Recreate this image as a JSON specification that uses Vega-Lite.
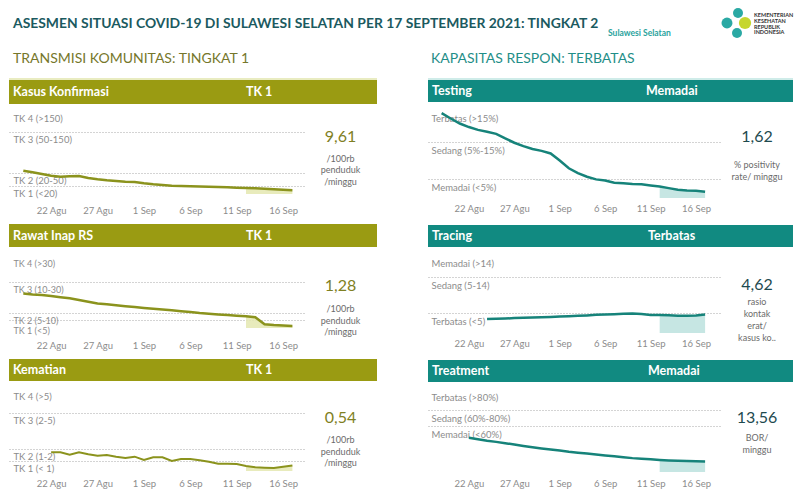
{
  "$schema": "https://vega.github.io/schema/vega-lite/v6.json",
  "padding": {"left": 8, "top": 0, "right": 0, "bottom": 0},
  "background": "#ffffff",
  "spacing": 0,
  "config": {
    "view": {"stroke": null},
    "font": "Lato",
    "axis": {"labelFont": "Lato", "minExtent": 0},
    "locale": {"number": {"decimal": ",", "thousands": ".", "grouping": [3], "currency": ["Rp", ""]}}
  },
  "datasets": {
    "kasus": [
      {"date": "2021-08-19", "value": 55.6}, {"date": "2021-08-20", "value": 51.6}, {"date": "2021-08-21", "value": 47.7},
      {"date": "2021-08-22", "value": 43.8}, {"date": "2021-08-23", "value": 41.5}, {"date": "2021-08-24", "value": 42.3},
      {"date": "2021-08-25", "value": 43.1}, {"date": "2021-08-26", "value": 38.5}, {"date": "2021-08-27", "value": 35.4},
      {"date": "2021-08-28", "value": 33.1}, {"date": "2021-08-29", "value": 31.5}, {"date": "2021-08-30", "value": 30.0},
      {"date": "2021-08-31", "value": 29.2}, {"date": "2021-09-01", "value": 26.2}, {"date": "2021-09-02", "value": 23.8},
      {"date": "2021-09-03", "value": 22.3}, {"date": "2021-09-04", "value": 20.8}, {"date": "2021-09-05", "value": 20.0},
      {"date": "2021-09-06", "value": 19.6}, {"date": "2021-09-07", "value": 19.0}, {"date": "2021-09-08", "value": 18.3},
      {"date": "2021-09-09", "value": 17.5}, {"date": "2021-09-10", "value": 16.7}, {"date": "2021-09-11", "value": 15.8},
      {"date": "2021-09-12", "value": 15.0}, {"date": "2021-09-13", "value": 14.2}, {"date": "2021-09-14", "value": 13.3},
      {"date": "2021-09-15", "value": 12.0}, {"date": "2021-09-16", "value": 10.8}, {"date": "2021-09-17", "value": 9.61}
    ],
    "rawat": [
      {"date": "2021-08-19", "value": 22.6}, {"date": "2021-08-20", "value": 22.0}, {"date": "2021-08-21", "value": 21.6},
      {"date": "2021-08-22", "value": 21.0}, {"date": "2021-08-23", "value": 20.2}, {"date": "2021-08-24", "value": 19.5},
      {"date": "2021-08-25", "value": 18.4}, {"date": "2021-08-26", "value": 17.3}, {"date": "2021-08-27", "value": 16.2},
      {"date": "2021-08-28", "value": 15.6}, {"date": "2021-08-29", "value": 15.0}, {"date": "2021-08-30", "value": 14.4},
      {"date": "2021-08-31", "value": 13.8}, {"date": "2021-09-01", "value": 13.2}, {"date": "2021-09-02", "value": 12.7},
      {"date": "2021-09-03", "value": 12.3}, {"date": "2021-09-04", "value": 11.8}, {"date": "2021-09-05", "value": 11.2},
      {"date": "2021-09-06", "value": 10.6}, {"date": "2021-09-07", "value": 10.0}, {"date": "2021-09-08", "value": 9.5},
      {"date": "2021-09-09", "value": 9.0}, {"date": "2021-09-10", "value": 8.5}, {"date": "2021-09-11", "value": 8.1},
      {"date": "2021-09-12", "value": 7.6}, {"date": "2021-09-13", "value": 7.0}, {"date": "2021-09-14", "value": 2.3},
      {"date": "2021-09-15", "value": 1.8}, {"date": "2021-09-16", "value": 1.5}, {"date": "2021-09-17", "value": 1.28}
    ],
    "kematian": [
      {"date": "2021-08-22", "value": 1.72}, {"date": "2021-08-23", "value": 1.72}, {"date": "2021-08-24", "value": 1.53},
      {"date": "2021-08-25", "value": 1.72}, {"date": "2021-08-26", "value": 1.56}, {"date": "2021-08-27", "value": 1.44},
      {"date": "2021-08-28", "value": 1.5}, {"date": "2021-08-29", "value": 1.36}, {"date": "2021-08-30", "value": 1.25},
      {"date": "2021-08-31", "value": 1.36}, {"date": "2021-09-01", "value": 1.08}, {"date": "2021-09-02", "value": 1.31},
      {"date": "2021-09-03", "value": 1.31}, {"date": "2021-09-04", "value": 1.0}, {"date": "2021-09-05", "value": 1.17},
      {"date": "2021-09-06", "value": 1.17}, {"date": "2021-09-07", "value": 1.06}, {"date": "2021-09-08", "value": 0.93},
      {"date": "2021-09-09", "value": 0.73}, {"date": "2021-09-10", "value": 0.72}, {"date": "2021-09-11", "value": 0.7},
      {"date": "2021-09-12", "value": 0.5}, {"date": "2021-09-13", "value": 0.37}, {"date": "2021-09-14", "value": 0.33},
      {"date": "2021-09-15", "value": 0.3}, {"date": "2021-09-16", "value": 0.43}, {"date": "2021-09-17", "value": 0.54}
    ],
    "testing": [
      {"date": "2021-08-19", "value": 23.1}, {"date": "2021-08-20", "value": 21.6}, {"date": "2021-08-21", "value": 20.2},
      {"date": "2021-08-22", "value": 19.2}, {"date": "2021-08-23", "value": 18.4}, {"date": "2021-08-24", "value": 17.9},
      {"date": "2021-08-25", "value": 17.3}, {"date": "2021-08-26", "value": 16.0}, {"date": "2021-08-27", "value": 14.8},
      {"date": "2021-08-28", "value": 13.9}, {"date": "2021-08-29", "value": 13.1}, {"date": "2021-08-30", "value": 12.6},
      {"date": "2021-08-31", "value": 11.9}, {"date": "2021-09-01", "value": 10.0}, {"date": "2021-09-02", "value": 7.9},
      {"date": "2021-09-03", "value": 6.6}, {"date": "2021-09-04", "value": 5.6}, {"date": "2021-09-05", "value": 4.9},
      {"date": "2021-09-06", "value": 4.6}, {"date": "2021-09-07", "value": 4.0}, {"date": "2021-09-08", "value": 3.9},
      {"date": "2021-09-09", "value": 3.7}, {"date": "2021-09-10", "value": 3.6}, {"date": "2021-09-11", "value": 3.3},
      {"date": "2021-09-12", "value": 3.0}, {"date": "2021-09-13", "value": 2.6}, {"date": "2021-09-14", "value": 2.2},
      {"date": "2021-09-15", "value": 2.0}, {"date": "2021-09-16", "value": 1.9}, {"date": "2021-09-17", "value": 1.62}
    ],
    "tracing": [
      {"date": "2021-08-24", "value": 3.5}, {"date": "2021-08-25", "value": 3.55}, {"date": "2021-08-26", "value": 3.62},
      {"date": "2021-08-27", "value": 3.72}, {"date": "2021-08-28", "value": 3.8}, {"date": "2021-08-29", "value": 3.9},
      {"date": "2021-08-30", "value": 3.95}, {"date": "2021-08-31", "value": 4.0}, {"date": "2021-09-01", "value": 4.1},
      {"date": "2021-09-02", "value": 4.2}, {"date": "2021-09-03", "value": 4.3}, {"date": "2021-09-04", "value": 4.4},
      {"date": "2021-09-05", "value": 4.55}, {"date": "2021-09-06", "value": 4.6}, {"date": "2021-09-07", "value": 4.68},
      {"date": "2021-09-08", "value": 4.8}, {"date": "2021-09-09", "value": 4.9}, {"date": "2021-09-10", "value": 4.72},
      {"date": "2021-09-11", "value": 4.5}, {"date": "2021-09-12", "value": 4.5}, {"date": "2021-09-13", "value": 4.45},
      {"date": "2021-09-14", "value": 4.3}, {"date": "2021-09-15", "value": 4.3}, {"date": "2021-09-16", "value": 4.4},
      {"date": "2021-09-17", "value": 4.62}
    ],
    "treatment": [
      {"date": "2021-08-22", "value": 44.7}, {"date": "2021-08-23", "value": 42.7}, {"date": "2021-08-24", "value": 40.7},
      {"date": "2021-08-25", "value": 39.3}, {"date": "2021-08-26", "value": 37.6}, {"date": "2021-08-27", "value": 35.8},
      {"date": "2021-08-28", "value": 34.0}, {"date": "2021-08-29", "value": 32.3}, {"date": "2021-08-30", "value": 30.8},
      {"date": "2021-08-31", "value": 29.4}, {"date": "2021-09-01", "value": 27.9}, {"date": "2021-09-02", "value": 26.4},
      {"date": "2021-09-03", "value": 25.2}, {"date": "2021-09-04", "value": 24.0}, {"date": "2021-09-05", "value": 22.8},
      {"date": "2021-09-06", "value": 21.6}, {"date": "2021-09-07", "value": 20.4}, {"date": "2021-09-08", "value": 19.2},
      {"date": "2021-09-09", "value": 18.1}, {"date": "2021-09-10", "value": 17.3}, {"date": "2021-09-11", "value": 16.5},
      {"date": "2021-09-12", "value": 15.7}, {"date": "2021-09-13", "value": 15.1}, {"date": "2021-09-14", "value": 14.6},
      {"date": "2021-09-15", "value": 14.2}, {"date": "2021-09-16", "value": 13.9}, {"date": "2021-09-17", "value": 13.56}
    ]
  },
  "vconcat": [
    {
      "width": 784, "height": 80,
      "data": {"values": [{"title": "ASESMEN SITUASI COVID-19 DI SULAWESI SELATAN PER 17 SEPTEMBER 2021: TINGKAT 2", "region": "Sulawesi Selatan", "left": "TRANSMISI KOMUNITAS: TINGKAT 1", "right": "KAPASITAS RESPON: TERBATAS", "org": "KEMENTERIAN\nKESEHATAN\nREPUBLIK\nINDONESIA"}]},
      "layer": [
        {"mark": {"type": "text", "align": "left", "baseline": "middle", "fontSize": 13.9, "fontWeight": "bold", "color": "#1b5a5f"}, "encoding": {"text": {"field": "title"}, "x": {"value": 4}, "y": {"value": 24}}},
        {"mark": {"type": "text", "align": "left", "baseline": "middle", "fontSize": 8.5, "fontWeight": "bold", "color": "#2aa39d"}, "encoding": {"text": {"field": "region"}, "x": {"value": 599}, "y": {"value": 33}}},
        {"mark": {"type": "text", "align": "left", "baseline": "middle", "fontSize": 14, "color": "#76772b"}, "encoding": {"text": {"field": "left"}, "x": {"value": 4}, "y": {"value": 59}}},
        {"mark": {"type": "text", "align": "left", "baseline": "middle", "fontSize": 14, "color": "#1f8e88"}, "encoding": {"text": {"field": "right"}, "x": {"value": 422}, "y": {"value": 59}}},
        {"mark": {"type": "rule", "color": "#e2e6ad", "strokeWidth": 1.5}, "encoding": {"x": {"value": 0}, "x2": {"value": 368}, "y": {"value": 79}}},
        {"mark": {"type": "rule", "color": "#bfe6e2", "strokeWidth": 1.5}, "encoding": {"x": {"value": 419}, "x2": {"value": 784}, "y": {"value": 79}}},
        {"mark": {"type": "point", "filled": true, "opacity": 1, "color": "#2aa9a4", "size": 120}, "encoding": {"x": {"value": 718}, "y": {"value": 23}}},
        {"mark": {"type": "point", "filled": true, "opacity": 1, "color": "#2aa9a4", "size": 100}, "encoding": {"x": {"value": 729}, "y": {"value": 13}}},
        {"mark": {"type": "point", "filled": true, "opacity": 1, "color": "#2aa9a4", "size": 100}, "encoding": {"x": {"value": 728}, "y": {"value": 33}}},
        {"mark": {"type": "point", "filled": true, "opacity": 1, "color": "#c6d62e", "size": 150}, "encoding": {"x": {"value": 736}, "y": {"value": 23}}},
        {"mark": {"type": "text", "align": "left", "baseline": "middle", "fontSize": 5.5, "fontWeight": "bold", "color": "#333333", "lineBreak": "\n", "lineHeight": 5.8}, "encoding": {"text": {"field": "org"}, "x": {"value": 745}, "y": {"value": 15}}}
      ]
    },
    {
      "spacing": 51,
      "hconcat": [
        {
          "spacing": 6,
          "vconcat": [
            {
              "spacing": 0,
              "vconcat": [
                {
                  "width": 368, "height": 24,
                  "view": {"fill": "#9a9b12", "stroke": null},
                  "data": {"values": [{"indicator": "Kasus Konfirmasi", "status": "TK 1"}]},
                  "layer": [
                    {"mark": {"type": "text", "align": "left", "color": "white", "fontSize": 12.5, "fontWeight": "bold"}, "encoding": {"text": {"field": "indicator"}, "x": {"value": 4}}},
                    {"mark": {"type": "text", "align": "left", "color": "white", "fontSize": 12.5, "fontWeight": "bold"}, "encoding": {"text": {"field": "status"}, "x": {"value": 237}}}
                  ]
                },
                {
                  "spacing": 0,
                  "hconcat": [
                    {
                      "width": 295, "height": 96,
                      "data": {"name": "kasus"},
                      "encoding": {
                        "x": {"field": "date", "type": "temporal", "scale": {"type": "utc", "nice": false, "domain": [{"year": 2021, "month": 8, "date": 17, "hours": 11, "utc": true}, {"year": 2021, "month": 9, "date": 18, "hours": 6, "utc": true}]},
                          "axis": {"values": [{"year": 2021, "month": 8, "date": 22, "utc": true}, {"year": 2021, "month": 8, "date": 27, "utc": true}, {"year": 2021, "month": 9, "date": 1, "utc": true}, {"year": 2021, "month": 9, "date": 6, "utc": true}, {"year": 2021, "month": 9, "date": 11, "utc": true}, {"year": 2021, "month": 9, "date": 16, "utc": true}], "labelExpr": "utcFormat(datum.value, '%-d') + (utcmonth(datum.value) == 7 ? ' Agu' : ' Sep')", "title": null, "domain": false, "ticks": false, "tickSize": 0, "grid": false, "labelPadding": 5, "labelFontSize": 9.5, "labelColor": "#8c8c8c", "labelFlush": false, "labelOverlap": false}},
                        "y": {"field": "value", "type": "quantitative", "scale": {"domain": [0, 20, 50, 150, 250], "range": [90, 82, 69, 28, 7], "nice": false, "zero": false},
                          "axis": {"orient": "left", "values": [250, 150, 50, 20], "labelExpr": "datum.value == 250 ? 'TK 4 (>150)' : datum.value == 150 ? 'TK 3 (50-150)' : datum.value == 50 ? 'TK 2 (20-50)' : 'TK 1 (<20)'", "labelAlign": "left", "labelBaseline": "middle", "labelPadding": -4, "labelOffset": 7, "ticks": false, "tickSize": 0, "domain": false, "grid": true, "gridDash": [1, 2], "gridColor": "#a8a8a8", "gridOpacity": {"condition": {"test": "datum.value == 250", "value": 0}, "value": 1}, "title": null, "labelFontSize": 9.5, "labelColor": "#8c8c8c", "labelOverlap": false, "labelBound": false, "labelFlush": false}}
                      },
                      "layer": [
                        {
                          "transform": [{"filter": "time(datum.date) >= time('2021-09-12')"}],
                          "mark": {"type": "area", "color": "#e4e7b0", "opacity": 0.85},
                          "encoding": {"y2": {"datum": 0}}
                        },
                        {"mark": {"type": "line", "color": "#8b931d", "strokeWidth": 2.5}}
                      ]
                    },
                    {
                      "width": 73, "height": 114,
                      "data": {"values": [{"value": 9.61, "unit": "/100rb\npenduduk\n/minggu"}]},
                      "layer": [
                        {"mark": {"type": "text", "fontSize": 16, "color": "#7f8023", "dy": -24}, "encoding": {"text": {"field": "value", "type": "quantitative", "format": ".2f"}}},
                        {"mark": {"type": "text", "fontSize": 9, "color": "#6b6b6b", "lineBreak": "\n", "lineHeight": 11.5, "dy": -2.5}, "encoding": {"text": {"field": "unit"}}}
                      ]
                    }
                  ]
                }
              ]
            },
            {
              "spacing": 0,
              "vconcat": [
                {
                  "width": 368, "height": 23,
                  "view": {"fill": "#9a9b12", "stroke": null},
                  "data": {"values": [{"indicator": "Rawat Inap RS", "status": "TK 1"}]},
                  "layer": [
                    {"mark": {"type": "text", "align": "left", "color": "white", "fontSize": 12.5, "fontWeight": "bold"}, "encoding": {"text": {"field": "indicator"}, "x": {"value": 4}}},
                    {"mark": {"type": "text", "align": "left", "color": "white", "fontSize": 12.5, "fontWeight": "bold"}, "encoding": {"text": {"field": "status"}, "x": {"value": 237}}}
                  ]
                },
                {
                  "spacing": 0,
                  "hconcat": [
                    {
                      "width": 295, "height": 88,
                      "data": {"name": "rawat"},
                      "encoding": {
                        "x": {"field": "date", "type": "temporal", "scale": {"type": "utc", "nice": false, "domain": [{"year": 2021, "month": 8, "date": 17, "hours": 11, "utc": true}, {"year": 2021, "month": 9, "date": 18, "hours": 6, "utc": true}]},
                          "axis": {"values": [{"year": 2021, "month": 8, "date": 22, "utc": true}, {"year": 2021, "month": 8, "date": 27, "utc": true}, {"year": 2021, "month": 9, "date": 1, "utc": true}, {"year": 2021, "month": 9, "date": 6, "utc": true}, {"year": 2021, "month": 9, "date": 11, "utc": true}, {"year": 2021, "month": 9, "date": 16, "utc": true}], "labelExpr": "utcFormat(datum.value, '%-d') + (utcmonth(datum.value) == 7 ? ' Agu' : ' Sep')", "title": null, "domain": false, "ticks": false, "tickSize": 0, "grid": false, "labelPadding": 5, "labelFontSize": 9.5, "labelColor": "#8c8c8c", "labelFlush": false, "labelOverlap": false}},
                        "y": {"field": "value", "type": "quantitative", "scale": {"domain": [0, 5, 10, 30, 60], "range": [81, 73, 66, 35, 9], "nice": false, "zero": false},
                          "axis": {"orient": "left", "values": [60, 30, 10, 5], "labelExpr": "datum.value == 60 ? 'TK 4 (>30)' : datum.value == 30 ? 'TK 3 (10-30)' : datum.value == 10 ? 'TK 2 (5-10)' : 'TK 1 (<5)'", "labelAlign": "left", "labelBaseline": "middle", "labelPadding": -4, "labelOffset": {"condition": {"test": "datum.value == 5", "value": 10}, "value": 7}, "ticks": false, "tickSize": 0, "domain": false, "grid": true, "gridDash": [1, 2], "gridColor": "#a8a8a8", "gridOpacity": {"condition": {"test": "datum.value == 60", "value": 0}, "value": 1}, "title": null, "labelFontSize": 9, "labelColor": "#8c8c8c", "labelOverlap": false, "labelBound": false, "labelFlush": false}}
                      },
                      "layer": [
                        {
                          "transform": [{"filter": "time(datum.date) >= time('2021-09-12')"}],
                          "mark": {"type": "area", "color": "#e4e7b0", "opacity": 0.85},
                          "encoding": {"y2": {"datum": 0}}
                        },
                        {"mark": {"type": "line", "color": "#8b931d", "strokeWidth": 2.5}}
                      ]
                    },
                    {
                      "width": 73, "height": 106,
                      "data": {"values": [{"value": 1.28, "unit": "/100rb\npenduduk\n/minggu"}]},
                      "layer": [
                        {"mark": {"type": "text", "fontSize": 16, "color": "#7f8023", "dy": -14}, "encoding": {"text": {"field": "value", "type": "quantitative", "format": ".2f"}}},
                        {"mark": {"type": "text", "fontSize": 9, "color": "#6b6b6b", "lineBreak": "\n", "lineHeight": 11.5, "dy": 9}, "encoding": {"text": {"field": "unit"}}}
                      ]
                    }
                  ]
                }
              ]
            },
            {
              "spacing": 0,
              "vconcat": [
                {
                  "width": 368, "height": 22,
                  "view": {"fill": "#9a9b12", "stroke": null},
                  "data": {"values": [{"indicator": "Kematian", "status": "TK 1"}]},
                  "layer": [
                    {"mark": {"type": "text", "align": "left", "color": "white", "fontSize": 12.5, "fontWeight": "bold"}, "encoding": {"text": {"field": "indicator"}, "x": {"value": 4}}},
                    {"mark": {"type": "text", "align": "left", "color": "white", "fontSize": 12.5, "fontWeight": "bold"}, "encoding": {"text": {"field": "status"}, "x": {"value": 237}}}
                  ]
                },
                {
                  "spacing": 0,
                  "hconcat": [
                    {
                      "width": 295, "height": 92,
                      "data": {"name": "kematian"},
                      "encoding": {
                        "x": {"field": "date", "type": "temporal", "scale": {"type": "utc", "nice": false, "domain": [{"year": 2021, "month": 8, "date": 17, "hours": 11, "utc": true}, {"year": 2021, "month": 9, "date": 18, "hours": 6, "utc": true}]},
                          "axis": {"values": [{"year": 2021, "month": 8, "date": 22, "utc": true}, {"year": 2021, "month": 8, "date": 27, "utc": true}, {"year": 2021, "month": 9, "date": 1, "utc": true}, {"year": 2021, "month": 9, "date": 6, "utc": true}, {"year": 2021, "month": 9, "date": 11, "utc": true}, {"year": 2021, "month": 9, "date": 16, "utc": true}], "labelExpr": "utcFormat(datum.value, '%-d') + (utcmonth(datum.value) == 7 ? ' Agu' : ' Sep')", "title": null, "domain": false, "ticks": false, "tickSize": 0, "grid": false, "labelPadding": 5, "labelFontSize": 9.5, "labelColor": "#8c8c8c", "labelFlush": false, "labelOverlap": false}},
                        "y": {"field": "value", "type": "quantitative", "scale": {"domain": [0, 1, 2, 5, 10], "range": [90, 80, 68, 32, 8], "nice": false, "zero": false},
                          "axis": {"orient": "left", "values": [10, 5, 2, 1], "labelExpr": "datum.value == 10 ? 'TK 4 (>5)' : datum.value == 5 ? 'TK 3 (2-5)' : datum.value == 2 ? 'TK 2 (1-2)' : 'TK 1 (< 1)'", "labelAlign": "left", "labelBaseline": "middle", "labelPadding": -4, "labelOffset": 7, "ticks": false, "tickSize": 0, "domain": false, "grid": true, "gridDash": [1, 2], "gridColor": "#a8a8a8", "gridOpacity": {"condition": {"test": "datum.value == 10", "value": 0}, "value": 1}, "title": null, "labelFontSize": 9.5, "labelColor": "#8c8c8c", "labelOverlap": false, "labelBound": false, "labelFlush": false}}
                      },
                      "layer": [
                        {
                          "transform": [{"filter": "time(datum.date) >= time('2021-09-12')"}],
                          "mark": {"type": "area", "color": "#e4e7b0", "opacity": 0.85},
                          "encoding": {"y2": {"datum": 0}}
                        },
                        {"mark": {"type": "line", "color": "#8b931d", "strokeWidth": 2}}
                      ]
                    },
                    {
                      "width": 73, "height": 110,
                      "data": {"values": [{"value": 0.54, "unit": "/100rb\npenduduk\n/minggu"}]},
                      "layer": [
                        {"mark": {"type": "text", "fontSize": 16, "color": "#7f8023", "dy": -18}, "encoding": {"text": {"field": "value", "type": "quantitative", "format": ".2f"}}},
                        {"mark": {"type": "text", "fontSize": 9, "color": "#6b6b6b", "lineBreak": "\n", "lineHeight": 11.5, "dy": 4}, "encoding": {"text": {"field": "unit"}}}
                      ]
                    }
                  ]
                }
              ]
            }
          ]
        },
        {
          "spacing": 9,
          "vconcat": [
            {
              "spacing": 0,
              "vconcat": [
                {
                  "width": 365, "height": 22,
                  "view": {"fill": "#118a81", "stroke": null},
                  "data": {"values": [{"indicator": "Testing", "status": "Memadai"}]},
                  "layer": [
                    {"mark": {"type": "text", "align": "left", "color": "white", "fontSize": 12.5, "fontWeight": "bold"}, "encoding": {"text": {"field": "indicator"}, "x": {"value": 4}}},
                    {"mark": {"type": "text", "align": "left", "color": "white", "fontSize": 12.5, "fontWeight": "bold"}, "encoding": {"text": {"field": "status"}, "x": {"value": 218}}}
                  ]
                },
                {
                  "spacing": 0,
                  "hconcat": [
                    {
                      "width": 293, "height": 96,
                      "data": {"name": "testing"},
                      "encoding": {
                        "x": {"field": "date", "type": "temporal", "scale": {"type": "utc", "nice": false, "domain": [{"year": 2021, "month": 8, "date": 17, "hours": 12, "utc": true}, {"year": 2021, "month": 9, "date": 18, "hours": 18, "utc": true}]},
                          "axis": {"values": [{"year": 2021, "month": 8, "date": 22, "utc": true}, {"year": 2021, "month": 8, "date": 27, "utc": true}, {"year": 2021, "month": 9, "date": 1, "utc": true}, {"year": 2021, "month": 9, "date": 6, "utc": true}, {"year": 2021, "month": 9, "date": 11, "utc": true}, {"year": 2021, "month": 9, "date": 16, "utc": true}], "labelExpr": "utcFormat(datum.value, '%-d') + (utcmonth(datum.value) == 7 ? ' Agu' : ' Sep')", "title": null, "domain": false, "ticks": false, "tickSize": 0, "grid": false, "labelPadding": 5, "labelFontSize": 9.5, "labelColor": "#8c8c8c", "labelFlush": false, "labelOverlap": false}},
                        "y": {"field": "value", "type": "quantitative", "scale": {"domain": [0, 5, 15, 24], "range": [96, 77, 40, 8], "nice": false, "zero": false},
                          "axis": {"orient": "left", "values": [24, 15, 5], "labelExpr": "datum.value == 24 ? 'Terbatas (>15%)' : datum.value == 15 ? 'Sedang (5%-15%)' : 'Memadai (<5%)'", "labelAlign": "left", "labelBaseline": "middle", "labelPadding": -3, "labelOffset": 8, "ticks": false, "tickSize": 0, "domain": false, "grid": true, "gridDash": [1, 2], "gridColor": "#a8a8a8", "gridOpacity": {"condition": {"test": "datum.value == 24", "value": 0}, "value": 1}, "title": null, "labelFontSize": 9.5, "labelColor": "#8c8c8c", "labelOverlap": false, "labelBound": false, "labelFlush": false}}
                      },
                      "layer": [
                        {
                          "transform": [{"filter": "time(datum.date) >= time('2021-09-12')"}],
                          "mark": {"type": "area", "color": "#b8e0dc", "opacity": 0.8},
                          "encoding": {"y2": {"datum": 0}}
                        },
                        {"mark": {"type": "line", "color": "#16837a", "strokeWidth": 2.5}}
                      ]
                    },
                    {
                      "width": 72, "height": 114,
                      "data": {"values": [{"value": 1.62, "unit": "% positivity\nrate/ minggu"}]},
                      "layer": [
                        {"mark": {"type": "text", "fontSize": 16, "color": "#1e4a4f", "dy": -22}, "encoding": {"text": {"field": "value", "type": "quantitative", "format": ".2f"}}},
                        {"mark": {"type": "text", "fontSize": 9, "color": "#6b6b6b", "lineBreak": "\n", "lineHeight": 12, "dy": 6}, "encoding": {"text": {"field": "unit"}}}
                      ]
                    }
                  ]
                }
              ]
            },
            {
              "spacing": 0,
              "vconcat": [
                {
                  "width": 365, "height": 22,
                  "view": {"fill": "#118a81", "stroke": null},
                  "data": {"values": [{"indicator": "Tracing", "status": "Terbatas"}]},
                  "layer": [
                    {"mark": {"type": "text", "align": "left", "color": "white", "fontSize": 12.5, "fontWeight": "bold"}, "encoding": {"text": {"field": "indicator"}, "x": {"value": 4}}},
                    {"mark": {"type": "text", "align": "left", "color": "white", "fontSize": 12.5, "fontWeight": "bold"}, "encoding": {"text": {"field": "status"}, "x": {"value": 220}}}
                  ]
                },
                {
                  "spacing": 0,
                  "hconcat": [
                    {
                      "width": 293, "height": 86,
                      "data": {"name": "tracing"},
                      "encoding": {
                        "x": {"field": "date", "type": "temporal", "scale": {"type": "utc", "nice": false, "domain": [{"year": 2021, "month": 8, "date": 17, "hours": 12, "utc": true}, {"year": 2021, "month": 9, "date": 18, "hours": 18, "utc": true}]},
                          "axis": {"values": [{"year": 2021, "month": 8, "date": 22, "utc": true}, {"year": 2021, "month": 8, "date": 27, "utc": true}, {"year": 2021, "month": 9, "date": 1, "utc": true}, {"year": 2021, "month": 9, "date": 6, "utc": true}, {"year": 2021, "month": 9, "date": 11, "utc": true}, {"year": 2021, "month": 9, "date": 16, "utc": true}], "labelExpr": "utcFormat(datum.value, '%-d') + (utcmonth(datum.value) == 7 ? ' Agu' : ' Sep')", "title": null, "domain": false, "ticks": false, "tickSize": 0, "grid": false, "labelPadding": 5, "labelFontSize": 9.5, "labelColor": "#8c8c8c", "labelFlush": false, "labelOverlap": false}},
                        "y": {"field": "value", "type": "quantitative", "scale": {"domain": [0, 5, 14, 20], "range": [86, 66, 30, 8], "nice": false, "zero": false},
                          "axis": {"orient": "left", "values": [20, 14, 5], "labelExpr": "datum.value == 20 ? 'Memadai (>14)' : datum.value == 14 ? 'Sedang (5-14)' : 'Terbatas (<5)'", "labelAlign": "left", "labelBaseline": "middle", "labelPadding": -3, "labelOffset": 8, "ticks": false, "tickSize": 0, "domain": false, "grid": true, "gridDash": [1, 2], "gridColor": "#a8a8a8", "gridOpacity": {"condition": {"test": "datum.value == 20", "value": 0}, "value": 1}, "title": null, "labelFontSize": 9.5, "labelColor": "#8c8c8c", "labelOverlap": false, "labelBound": false, "labelFlush": false}}
                      },
                      "layer": [
                        {
                          "transform": [{"filter": "time(datum.date) >= time('2021-09-12')"}],
                          "mark": {"type": "area", "color": "#b8e0dc", "opacity": 0.8},
                          "encoding": {"y2": {"datum": 0}}
                        },
                        {"mark": {"type": "line", "color": "#16837a", "strokeWidth": 2.5}}
                      ]
                    },
                    {
                      "width": 72, "height": 104,
                      "data": {"values": [{"value": 4.62, "unit": "rasio\nkontak\nerat/\nkasus ko.."}]},
                      "layer": [
                        {"mark": {"type": "text", "fontSize": 16, "color": "#1e4a4f", "dy": -14}, "encoding": {"text": {"field": "value", "type": "quantitative", "format": ".2f"}}},
                        {"mark": {"type": "text", "fontSize": 9, "color": "#6b6b6b", "lineBreak": "\n", "lineHeight": 12, "dy": 3}, "encoding": {"text": {"field": "unit"}}}
                      ]
                    }
                  ]
                }
              ]
            },
            {
              "spacing": 0,
              "vconcat": [
                {
                  "width": 365, "height": 22,
                  "view": {"fill": "#118a81", "stroke": null},
                  "data": {"values": [{"indicator": "Treatment", "status": "Memadai"}]},
                  "layer": [
                    {"mark": {"type": "text", "align": "left", "color": "white", "fontSize": 12.5, "fontWeight": "bold"}, "encoding": {"text": {"field": "indicator"}, "x": {"value": 4}}},
                    {"mark": {"type": "text", "align": "left", "color": "white", "fontSize": 12.5, "fontWeight": "bold"}, "encoding": {"text": {"field": "status"}, "x": {"value": 220}}}
                  ]
                },
                {
                  "spacing": 0,
                  "hconcat": [
                    {
                      "width": 293, "height": 91,
                      "data": {"name": "treatment"},
                      "encoding": {
                        "x": {"field": "date", "type": "temporal", "scale": {"type": "utc", "nice": false, "domain": [{"year": 2021, "month": 8, "date": 17, "hours": 12, "utc": true}, {"year": 2021, "month": 9, "date": 18, "hours": 18, "utc": true}]},
                          "axis": {"values": [{"year": 2021, "month": 8, "date": 22, "utc": true}, {"year": 2021, "month": 8, "date": 27, "utc": true}, {"year": 2021, "month": 9, "date": 1, "utc": true}, {"year": 2021, "month": 9, "date": 6, "utc": true}, {"year": 2021, "month": 9, "date": 11, "utc": true}, {"year": 2021, "month": 9, "date": 16, "utc": true}], "labelExpr": "utcFormat(datum.value, '%-d') + (utcmonth(datum.value) == 7 ? ' Agu' : ' Sep')", "title": null, "domain": false, "ticks": false, "tickSize": 0, "grid": false, "labelPadding": 5, "labelFontSize": 9.5, "labelColor": "#8c8c8c", "labelFlush": false, "labelOverlap": false}},
                        "y": {"field": "value", "type": "quantitative", "scale": {"domain": [0, 60, 80, 100], "range": [90, 44, 28, 7], "nice": false, "zero": false},
                          "axis": {"orient": "left", "values": [100, 80, 60], "labelExpr": "datum.value == 100 ? 'Terbatas (>80%)' : datum.value == 80 ? 'Sedang (60%-80%)' : 'Memadai (<60%)'", "labelAlign": "left", "labelBaseline": "middle", "labelPadding": -3, "labelOffset": 8, "ticks": false, "tickSize": 0, "domain": false, "grid": true, "gridDash": [1, 2], "gridColor": "#a8a8a8", "gridOpacity": {"condition": {"test": "datum.value == 100", "value": 0}, "value": 1}, "title": null, "labelFontSize": 9.5, "labelColor": "#8c8c8c", "labelOverlap": false, "labelBound": false, "labelFlush": false}}
                      },
                      "layer": [
                        {
                          "transform": [{"filter": "time(datum.date) >= time('2021-09-12')"}],
                          "mark": {"type": "area", "color": "#b8e0dc", "opacity": 0.8},
                          "encoding": {"y2": {"datum": 0}}
                        },
                        {"mark": {"type": "line", "color": "#16837a", "strokeWidth": 2.5}}
                      ]
                    },
                    {
                      "width": 72, "height": 109,
                      "data": {"values": [{"value": 13.56, "unit": "BOR/\nminggu"}]},
                      "layer": [
                        {"mark": {"type": "text", "fontSize": 16, "color": "#1e4a4f", "dy": -18.5}, "encoding": {"text": {"field": "value", "type": "quantitative", "format": ".2f"}}},
                        {"mark": {"type": "text", "fontSize": 9, "color": "#6b6b6b", "lineBreak": "\n", "lineHeight": 12, "dy": 1.5}, "encoding": {"text": {"field": "unit"}}}
                      ]
                    }
                  ]
                }
              ]
            }
          ]
        }
      ]
    }
  ]
}
